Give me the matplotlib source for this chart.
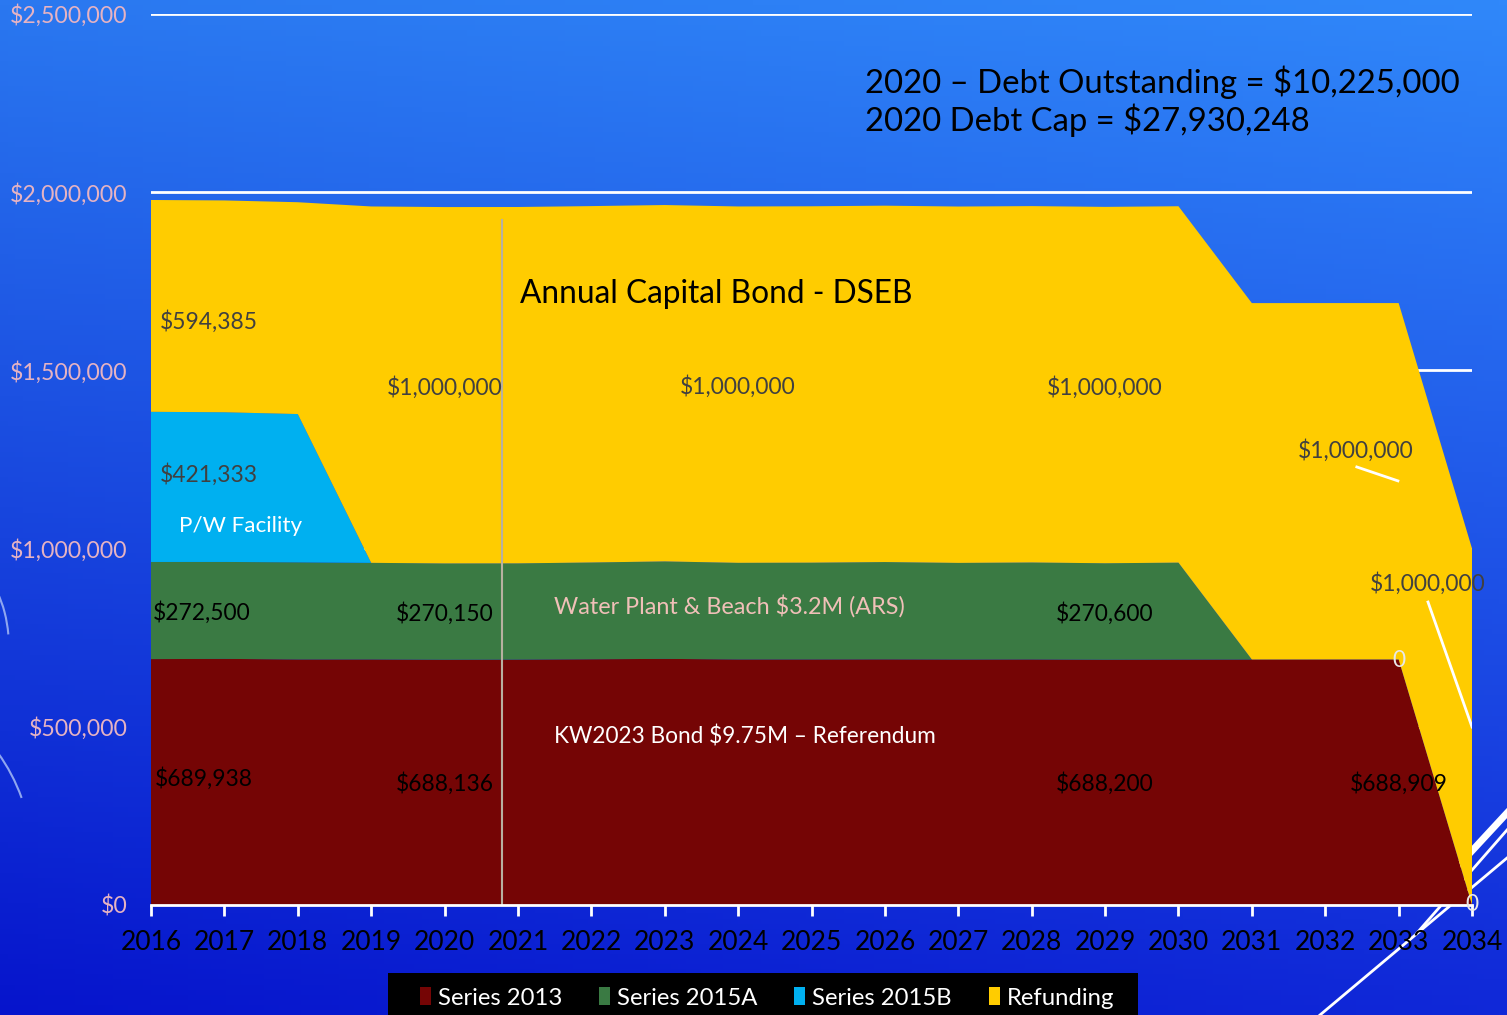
import numpy as np
import matplotlib
matplotlib.use("Agg")
import matplotlib.pyplot as plt
from matplotlib.patches import Patch, Rectangle, Arc
from matplotlib.ticker import FuncFormatter

plt.rcParams['font.family'] = ['Lato', 'DejaVu Sans']

# data
years = list(range(2016, 2035))
series_2013 = [689938, 690500, 689000, 689000, 688136, 688500, 689500, 690500, 689000, 689000,
               689200, 688800, 689000, 688200, 688600, 688800, 688900, 688909, 0]
series_2015a = [272500, 272000, 272500, 271000, 270150, 270000, 271500, 273500, 271000, 271500,
                273000, 271000, 272000, 270600, 272000, 0, 0, 0, 0]
series_2015b = [421333, 420000, 416000, 0, 0, 0, 0, 0, 0, 0,
                0, 0, 0, 0, 0, 0, 0, 0, 0]
refunding = [594385, 594385, 594385, 1000000, 1000000, 1000000, 1000000, 1000000, 1000000, 1000000,
             1000000, 1000000, 1000000, 1000000, 1000000, 1000000, 1000000, 1000000, 1000000]
series_names = ["Series 2013", "Series 2015A", "Series 2015B", "Refunding"]
colors = ["#750505", "#3a7a43", "#00b0f0", "#ffcc00"]

fig = plt.figure(figsize=(15.07, 10.15), dpi=100)

# background gradient + decorations (pixel coords)
bg = fig.add_axes([0, 0, 1, 1], zorder=-10)
gx = np.linspace(0, 1, 200)
gy = np.linspace(0, 1, 200)
X, Y = np.meshgrid(gx, gy)
tl = np.array([42, 120, 240]) / 255
tr = np.array([48, 136, 250]) / 255
bl = np.array([6, 20, 204]) / 255
br = np.array([16, 40, 216]) / 255
img = ((1 - X)[..., None] * (1 - Y)[..., None] * tl + X[..., None] * (1 - Y)[..., None] * tr
       + (1 - X)[..., None] * Y[..., None] * bl + X[..., None] * Y[..., None] * br)
bg.imshow(img, extent=[0, 1507, 1015, 0], aspect='auto')
bg.set_xlim(0, 1507)
bg.set_ylim(1015, 0)
bg.plot([1320, 1507], [1015, 858], color='white', lw=2)
bg.plot([1417, 1507], [933, 830], color='white', lw=2)
bg.plot([1445, 1507], [880, 813], color='white', lw=5)
bg.add_patch(Arc((-8, 625), 30, 90, angle=-10, theta1=-70, theta2=40, color='#8fa6f0', lw=1.5))
bg.add_patch(Arc((-12, 795), 60, 150, angle=-25, theta1=-80, theta2=30, color='#8fa6f0', lw=1.5))
bg.add_patch(Rectangle((388, 973), 750, 45, facecolor='black', edgecolor='none'))
bg.axis('off')

ax = fig.add_axes([0.1002, 0.1084, 0.8766, 0.8778])
ax.patch.set_alpha(0)
ax.stackplot(years, series_2013, series_2015a, series_2015b, refunding,
             colors=colors, labels=series_names, lw=0, zorder=2)
ax.set_xlim(2016, 2034)
ax.set_ylim(0, 2500000)
ax.set_yticks([0, 500000, 1000000, 1500000, 2000000, 2500000])
ax.yaxis.set_major_formatter(FuncFormatter(lambda v, p: "${:,.0f}".format(v)))
ax.set_xticks(years)
ax.grid(axis='y', color='white', lw=2, zorder=1)
ax.set_axisbelow(True)
for s in ['top', 'right', 'left']:
    ax.spines[s].set_visible(False)
ax.spines['bottom'].set_color('white')
ax.spines['bottom'].set_linewidth(2)
ax.spines['bottom'].set_zorder(3)
ax.tick_params(axis='x', colors='white', length=8, width=2, labelcolor='black',
               labelsize=19, pad=10)
ax.tick_params(axis='y', length=0, labelcolor='#e6b3c3', labelsize=16.6, pad=17)

# vertical marker line
ax.plot([2020.78, 2020.78], [0, 1922000], color='#b8b0a0', lw=1.5, zorder=3)

dark = '#404040'
labels = [
    (2016.12, 1636000, "$594,385", 'left', dark),
    (2016.12, 1209000, "$421,333", 'left', dark),
    (2016.03, 822000, "$272,500", 'left', 'black'),
    (2016.05, 356000, "$689,938", 'left', 'black'),
    (2020.0, 1453000, "$1,000,000", 'center', dark),
    (2020.0, 819000, "$270,150", 'center', 'black'),
    (2020.0, 339500, "$688,136", 'center', 'black'),
    (2024.0, 1456000, "$1,000,000", 'center', dark),
    (2029.0, 1453000, "$1,000,000", 'center', dark),
    (2029.0, 819000, "$270,600", 'center', 'black'),
    (2029.0, 339500, "$688,200", 'center', 'black'),
    (2032.42, 1274000, "$1,000,000", 'center', dark),
    (2033.40, 900700, "$1,000,000", 'center', dark),
    (2033.0, 339500, "$688,909", 'center', 'black'),
]
for x, y, t, ha, c in labels:
    ax.text(x, y, t, ha=ha, va='center', fontsize=16.4, color=c, zorder=5)

ax.text(2033.0, 685000, "0", ha='center', va='center', fontsize=16.4, color='#e8e8e8', zorder=5)
ax.text(2034.0, 0, "0", ha='center', va='center', fontsize=16.4, color='#e8e8e8', zorder=5,
        clip_on=False)

# leader lines
ax.plot([2032.43, 2032.99], [1229000, 1190000], color='white', lw=2, zorder=4)
ax.plot([2033.40, 2034.0], [850000, 499400], color='white', lw=2, zorder=4)

ax.text(2016.38, 1063000, "P/W Facility", ha='left', va='center', fontsize=16.2, color='white', zorder=5)
ax.text(2021.49, 839000, "Water Plant & Beach $3.2M (ARS)", ha='left', va='center', fontsize=16.8,
        color='#f0c0b8', zorder=5)
ax.text(2021.49, 474000, "KW2023 Bond $9.75M \u2013 Referendum", ha='left', va='center', fontsize=16.3,
        color='white', zorder=5)
ax.text(2021.03, 1714000, "Annual Capital Bond - DSEB", ha='left', va='center', fontsize=22.8,
        color='black', zorder=5)

fig.text(865 / 1507, 1 - 82 / 1015, "2020 \u2013 Debt Outstanding = $10,225,000", ha='left', va='center',
         fontsize=23.7, color='black')
fig.text(865 / 1507, 1 - 120 / 1015, "2020 Debt Cap = $27,930,248", ha='left', va='center',
         fontsize=23.7, color='black')

handles = [Patch(facecolor=c, edgecolor='none') for c in colors]
leg = fig.legend(handles, series_names, loc='center', bbox_to_anchor=(767 / 1507, 1 - 998 / 1015),
                 ncol=4, frameon=False, fontsize=17.2, handlelength=0.45, handleheight=0.75,
                 handletextpad=0.3, columnspacing=1.55, borderpad=0.3)
for t in leg.get_texts():
    t.set_color('white')

fig.savefig("out.png", dpi=100)
